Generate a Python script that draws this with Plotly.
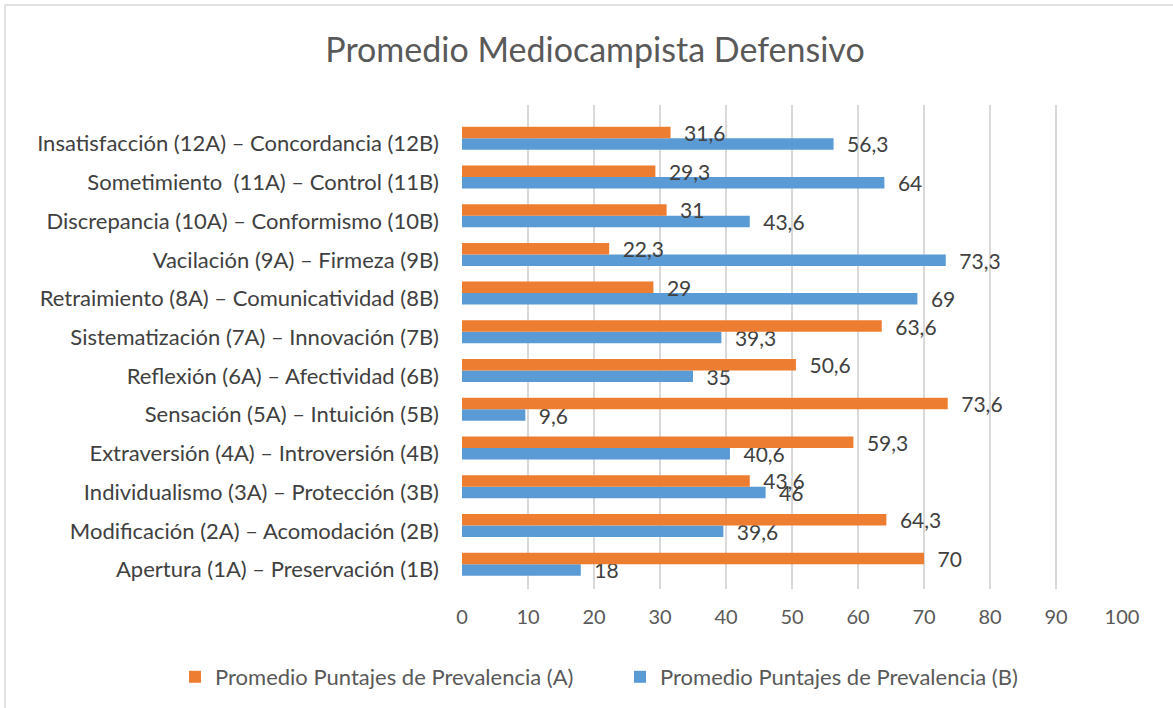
import plotly.graph_objects as go

categories = [
    "Apertura (1A) – Preservación (1B)",
    "Modificación (2A) – Acomodación (2B)",
    "Individualismo (3A) – Protección (3B)",
    "Extraversión (4A) – Introversión (4B)",
    "Sensación (5A) – Intuición (5B)",
    "Reflexión (6A) – Afectividad (6B)",
    "Sistematización (7A) – Innovación (7B)",
    "Retraimiento (8A) – Comunicatividad (8B)",
    "Vacilación (9A) – Firmeza (9B)",
    "Discrepancia (10A) – Conformismo (10B)",
    "Sometimiento  (11A) – Control (11B)",
    "Insatisfacción (12A) – Concordancia (12B)",
]
values_a = [70, 64.3, 43.6, 59.3, 73.6, 50.6, 63.6, 29, 22.3, 31, 29.3, 31.6]
values_b = [18, 39.6, 46, 40.6, 9.6, 35, 39.3, 69, 73.3, 43.6, 64, 56.3]
name_a = "Promedio Puntajes de Prevalencia (A)"
name_b = "Promedio Puntajes de Prevalencia (B)"
title = "Promedio Mediocampista Defensivo"
x_ticks = [0, 10, 20, 30, 40, 50, 60, 70, 80, 90, 100]

W, H = 1173, 708
L, R, T, B = 462, 51, 105, 119
pw, ph = W - L - R, H - T - B

def px2x(p):
    return (p - L) / pw

def px2y(p):
    return (H - B - p) / ph

FONT = "Lato"
BW = 0.297

fig = go.Figure()
fig.add_trace(go.Bar(
    y=categories, x=values_b, orientation="h", name=name_b,
    marker=dict(color="#5B9BD5", line=dict(width=0)),
    width=BW, offset=-0.155,
    texttemplate="\u2002%{x}", textposition="outside", cliponaxis=False,
    constraintext="none",
    textfont=dict(family=FONT, size=21, color="#404040"),
    legendrank=2,
))
fig.add_trace(go.Bar(
    y=categories, x=values_a, orientation="h", name=name_a,
    marker=dict(color="#ED7D31", line=dict(width=0)),
    width=BW, offset=0.142,
    texttemplate="\u2002%{x}", textposition="outside", cliponaxis=False,
    constraintext="none",
    textfont=dict(family=FONT, size=21, color="#404040"),
    legendrank=1,
))

fig.update_layout(
    width=W, height=H,
    margin=dict(l=L, r=R, t=T, b=B, autoexpand=False),
    paper_bgcolor="white", plot_bgcolor="white",
    separators=", ",
    font=dict(family=FONT, color="#595959"),
    barmode="overlay",
    title=dict(text=title, x=595 / W, xanchor="center", y=1 - 50 / H, yanchor="middle",
               yref="container", font=dict(family=FONT, size=34, color="#595959")),
    xaxis=dict(range=[0, 100], tickvals=x_ticks, showgrid=True, gridcolor="#d9d9d9",
               gridwidth=1.5, zeroline=False, showline=False, ticks="",
               ticklabelstandoff=14,
               tickfont=dict(family=FONT, size=20, color="#595959")),
    yaxis=dict(type="category", categoryorder="array", categoryarray=categories,
               range=[-0.5, 12.0], showgrid=False, zeroline=False, showline=False,
               ticks="", ticklabelstandoff=22,
               tickfont=dict(family=FONT, size=22, color="#404040")),
    legend=dict(orientation="h", x=px2x(175), xref="paper", xanchor="left",
                y=px2y(677), yanchor="middle",
                font=dict(family=FONT, size=22, color="#595959"),
                itemwidth=30, entrywidth=400, entrywidthmode="pixels"),
    showlegend=True,
)

fig.add_shape(type="rect", xref="paper", yref="paper",
              x0=px2x(5), x1=px2x(1180), y0=px2y(715), y1=px2y(5),
              line=dict(color="#d9d9d9", width=1.5), fillcolor="rgba(0,0,0,0)", layer="below")

fig.write_html("out.html", config={"displayModeBar": False})

with open("out.html", "r", encoding="utf-8") as f:
    html = f.read()
html = html.replace("<body>", '<body style="margin:0;overflow:hidden">', 1)
with open("out.html", "w", encoding="utf-8") as f:
    f.write(html)
